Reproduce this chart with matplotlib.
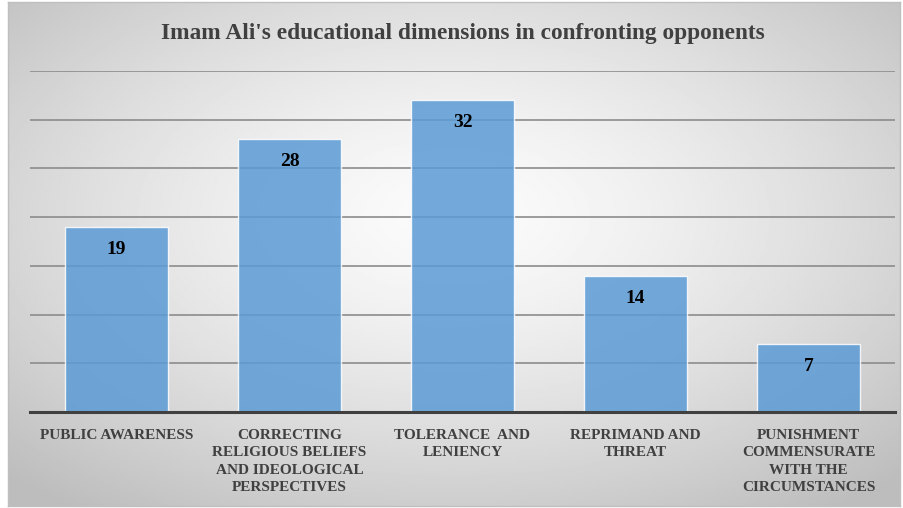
import numpy as np
import matplotlib.pyplot as plt

categories = ["PUBLIC AWARENESS",
              "CORRECTING\nRELIGIOUS BELIEFS\nAND IDEOLOGICAL\nPERSPECTIVES",
              "TOLERANCE  AND\nLENIENCY",
              "REPRIMAND AND\nTHREAT",
              "PUNISHMENT\nCOMMENSURATE\nWITH THE\nCIRCUMSTANCES"]
values = [19, 28, 32, 14, 7]
title = "Imam Ali's educational dimensions in confronting opponents"

W, H = 904, 508
fig = plt.figure(figsize=(W / 100, H / 100), dpi=100)
fig.patch.set_facecolor("white")

# background gradient
bg = fig.add_axes([8 / W, 2 / H, (900 - 8) / W, (506 - 2) / H])
yy, xx = np.mgrid[-1:1:300j, -1:1:500j]
r = np.sqrt((xx * 0.9) ** 2 + ((yy + 0.15) * 0.9) ** 2)
shade = 0.985 - 0.17 * np.clip(r, 0, 1.3) ** 1.4
bg.imshow(shade, cmap="gray", vmin=0, vmax=1, aspect="auto", extent=[0, 1, 0, 1])
bg.set_xticks([]); bg.set_yticks([])
for s in bg.spines.values():
    s.set_color("#bfbfbf"); s.set_linewidth(1)

serif = ["Liberation Serif", "DejaVu Serif"]
left, right = 30, 895
top, bottom = 71, 412
ax = fig.add_axes([left / W, 1 - bottom / H, (right - left) / W, (bottom - top) / H])
ax.patch.set_alpha(0)
x = np.arange(len(values))
ax.set_xlim(-0.5, len(values) - 0.5)
ax.set_ylim(0, 35)
ax.set_yticks(np.arange(5, 36, 5))
ax.grid(axis="y", color="#8c8c8c", linewidth=1.2, zorder=0)
ax.set_axisbelow(True)
ax.bar(x, values, width=0.6, color="#5b9bd5", alpha=0.85,
       edgecolor="white", linewidth=1, zorder=2)
for xi, v in zip(x, values):
    ax.text(xi, v - 2.3, str(v), ha="center", va="center", fontsize=14,
            fontweight="bold", family=serif, color="black", zorder=3)
for s in ["top", "right", "left"]:
    ax.spines[s].set_visible(False)
ax.spines["bottom"].set_color("#404040")
ax.spines["bottom"].set_linewidth(2.2)
ax.spines["bottom"].set_zorder(4)
ax.tick_params(axis="y", left=False, labelleft=False)
ax.tick_params(axis="x", length=0, pad=12)
ax.set_xticks(x)
ax.set_xticklabels(categories, fontsize=11, fontweight="bold", family=serif,
                   color="#404040", va="top", linespacing=1.45)

fig.text(463 / W, 1 - 33 / H, title, ha="center", va="center", fontsize=16.8,
         fontweight="bold", family=serif, color="#404040")

fig.savefig("out.png", dpi=100)
